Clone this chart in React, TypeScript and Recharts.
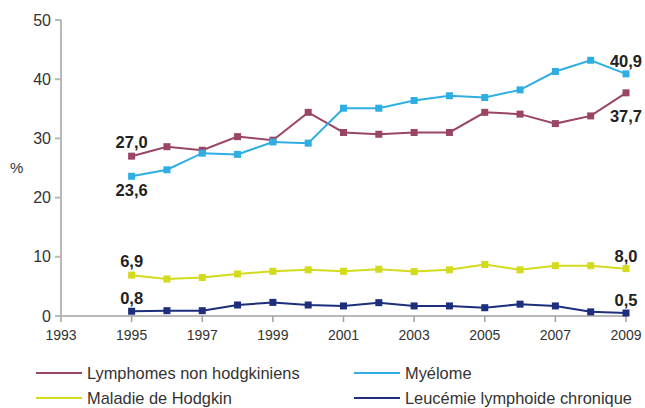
import React from 'react';
import { LineChart, Line, XAxis, YAxis, Legend } from 'recharts';

const years = [1995, 1996, 1997, 1998, 1999, 2000, 2001, 2002, 2003, 2004, 2005, 2006, 2007, 2008, 2009];
const lymphomes = [27.0, 28.6, 28.0, 30.3, 29.7, 34.4, 31.0, 30.7, 31.0, 31.0, 34.4, 34.1, 32.5, 33.8, 37.7];
const myelome = [23.6, 24.7, 27.5, 27.3, 29.4, 29.2, 35.1, 35.1, 36.4, 37.2, 36.9, 38.2, 41.3, 43.2, 40.9];
const hodgkin = [6.9, 6.25, 6.5, 7.1, 7.55, 7.8, 7.55, 7.9, 7.5, 7.8, 8.7, 7.8, 8.5, 8.5, 8.0];
const leucemie = [0.8, 0.9, 0.9, 1.86, 2.3, 1.86, 1.7, 2.25, 1.7, 1.7, 1.4, 2.0, 1.7, 0.7, 0.5];

const xTicks = [1993, 1995, 1997, 1999, 2001, 2003, 2005, 2007, 2009];
const yTicks = [0, 10, 20, 30, 40, 50];

const seriesNames = ['Lymphomes non hodgkiniens', 'Myélome', 'Maladie de Hodgkin', 'Leucémie lymphoide chronique'];
const seriesKeys = ['lnh', 'mye', 'hod', 'llc'];
const seriesColors = ['#9a4565', '#2eaee3', '#d4da1c', '#1c2e7c'];
// vertical offsets of first / last value labels
const labelOffsets: [number, number][] = [[-14, 23], [14, -13], [-14, -13], [-13, -13]];

const data = years.map((y, i) => ({
  year: y,
  lnh: lymphomes[i],
  mye: myelome[i],
  hod: hodgkin[i],
  llc: leucemie[i],
}));

const fmt = (v: number) => v.toFixed(1).replace('.', ',');

const makeDot = (color: string, offs: [number, number]) => (props: any) => {
  const { cx, cy, index, value } = props;
  if (cx == null || cy == null) return <g key={`d-${index}`} />;
  const isFirst = index === 0;
  const isLast = index === years.length - 1;
  const v = Array.isArray(value) ? value[1] : value;
  return (
    <g key={`d-${color}-${index}`}>
      <rect x={cx - 3.5} y={cy - 3.5} width={7} height={7} fill={color} />
      {(isFirst || isLast) && (
        <text
          x={cx}
          y={cy + (isFirst ? offs[0] : offs[1])}
          textAnchor="middle"
          dominantBaseline="central"
          fontFamily="Liberation Sans, Arial, sans-serif"
          fontWeight="bold"
          fontSize={16.5}
          fill="#222"
        >
          {fmt(v)}
        </text>
      )}
    </g>
  );
};

const LegendContent = () => {
  const font = 'Liberation Sans, Arial, sans-serif';
  const items = [
    { i: 0, x: 36, y: 0 },
    { i: 1, x: 354, y: 0 },
    { i: 2, x: 36, y: 25 },
    { i: 3, x: 354, y: 25 },
  ];
  return (
    <svg width={645} height={46} style={{ display: 'block' }}>
      {items.map(({ i, x, y }) => (
        <g key={i}>
          <line x1={x} x2={x + 46} y1={y + 11} y2={y + 11} stroke={seriesColors[i]} strokeWidth={2} />
          <text x={x + 51} y={y + 11} dominantBaseline="central" fontFamily={font} fontSize={16.4} fill="#333">
            {seriesNames[i]}
          </text>
        </g>
      ))}
    </svg>
  );
};

export default function App() {
  const font = 'Liberation Sans, Arial, sans-serif';
  return (
    <div style={{ position: 'absolute', left: 0, top: 0, width: 645, height: 408, background: '#fff' }}>
      <LineChart width={645} height={408} data={data} margin={{ top: 20, right: 19, bottom: 62, left: 0 }}>
        <XAxis
          dataKey="year"
          type="number"
          domain={[1993, 2009]}
          ticks={xTicks}
          stroke="#a0a0a0"
          strokeWidth={1.5}
          tickSize={6}
          tickMargin={8}
          height={30}
          tick={{ fill: '#333', fontSize: 14, fontFamily: font }}
        />
        <YAxis
          domain={[0, 50]}
          ticks={yTicks}
          width={61}
          stroke="#b8b8b8"
          strokeWidth={2}
          tickSize={6}
          tickMargin={4}
          tick={{ fill: '#333', fontSize: 16, fontFamily: font }}
          label={{ value: '%', position: 'insideLeft', offset: 10, fill: '#333', fontSize: 15, fontFamily: font }}
        />
        <Legend
          layout="vertical"
          align="center"
          verticalAlign="middle"
          wrapperStyle={{ left: 0, top: 362, width: 645 }}
          content={<LegendContent />}
        />
        {seriesKeys.map((k, i) => (
          <Line
            key={k}
            dataKey={k}
            name={seriesNames[i]}
            stroke={seriesColors[i]}
            strokeWidth={2}
            isAnimationActive={false}
            dot={makeDot(seriesColors[i], labelOffsets[i])}
            activeDot={false}
          />
        ))}
      </LineChart>
    </div>
  );
}
